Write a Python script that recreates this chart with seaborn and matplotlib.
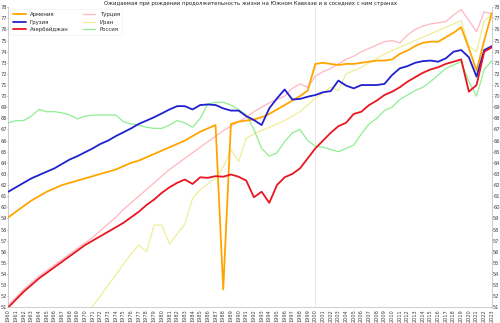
import numpy as np
import pandas as pd
import matplotlib
matplotlib.use('Agg')
import matplotlib.pyplot as plt
import seaborn as sns

years = list(range(1960, 2024))

armenia = [59.1, 59.6, 60.1, 60.6, 61.0, 61.4, 61.7, 62.0, 62.2, 62.4,
           62.6, 62.8, 63.0, 63.2, 63.4, 63.7, 64.0, 64.2, 64.5, 64.8,
           65.1, 65.4, 65.7, 66.0, 66.4, 66.8, 67.1, 67.4, 52.6, 67.5,
           67.7, 67.8, 67.9, 68.1, 68.4, 68.8, 69.2, 69.6, 70.0, 70.5,
           72.9, 73.0, 72.9, 72.8, 72.9, 72.9, 73.0, 73.1, 73.2, 73.2,
           73.3, 73.8, 74.1, 74.5, 74.8, 74.9, 74.9, 75.3, 75.7, 76.2,
           74.3, 72.3, 75.0, 77.5]

georgia = [61.4, 61.8, 62.2, 62.6, 62.9, 63.2, 63.5, 63.9, 64.3, 64.6,
           64.95, 65.3, 65.7, 66.0, 66.4, 66.75, 67.1, 67.5, 67.8, 68.1,
           68.45, 68.8, 69.1, 69.1, 68.8, 69.2, 69.25, 69.2, 68.9, 68.7,
           68.7, 68.2, 67.85, 67.4, 68.9, 69.8, 70.6, 69.7, 69.75, 69.95,
           70.1, 70.35, 70.45, 71.4, 70.95, 70.7, 71.0, 71.0, 71.0, 71.1,
           71.9, 72.5, 72.7, 73.0, 73.15, 73.2, 73.1, 73.4, 74.0, 74.15,
           73.5, 71.75, 74.15, 74.5]

azerbaijan = [51.0, 51.7, 52.4, 53.0, 53.6, 54.1, 54.6, 55.1, 55.6, 56.1,
              56.6, 57.0, 57.4, 57.8, 58.2, 58.6, 59.1, 59.6, 60.2, 60.7,
              61.3, 61.8, 62.2, 62.5, 62.1, 62.7, 62.65, 62.8, 62.75, 62.95,
              62.75, 62.4, 60.9, 61.4, 60.4, 62.0, 62.7, 63.0, 63.5, 64.4,
              65.3, 66.0, 66.7, 67.3, 67.6, 68.4, 68.6, 69.2, 69.6, 70.1,
              70.4, 70.8, 71.3, 71.7, 72.1, 72.4, 72.6, 72.9, 73.1, 73.3,
              70.4, 71.0, 74.0, 74.4]

turkey = [51.2, 51.9, 52.6, 53.2, 53.8, 54.3, 54.8, 55.3, 55.8, 56.3,
          56.8, 57.3, 57.9, 58.5, 59.1, 59.8, 60.4, 61.0, 61.6, 62.2,
          62.8, 63.4, 63.9, 64.4, 64.9, 65.4, 65.9, 66.4, 66.9, 67.3,
          67.7, 68.1, 68.6, 69.0, 69.4, 69.7, 70.0, 70.7, 71.1, 70.8,
          71.8, 72.2, 72.5, 72.9, 73.3, 73.6, 74.0, 74.3, 74.6, 74.9,
          75.0, 74.8, 75.5, 76.0, 76.3, 76.5, 76.6, 76.7, 77.3, 77.8,
          76.8, 75.8, 77.6, 77.4]

iran = [np.nan] * 10 + [
        50.2, 51.1, 52.0, 53.0, 53.9, 54.9, 55.8, 56.6, 56.0, 58.4,
        58.4, 56.7, 57.6, 58.5, 60.8, 61.6, 62.1, 62.6, 63.6, 65.2,
        64.1, 66.2, 66.6, 66.9, 67.2, 67.5, 67.8, 68.2, 68.6, 69.2,
        69.8, 70.3, 70.8, 70.5, 72.0, 72.3, 72.6, 73.0, 73.4, 73.8,
        74.1, 74.4, 74.7, 75.0, 75.3, 75.6, 75.9, 76.2, 76.5, 76.8,
        74.5, 74.0, 76.8, 77.3]

russia = [67.6, 67.8, 67.8, 68.2, 68.8, 68.6, 68.6, 68.5, 68.3, 67.95,
          68.2, 68.3, 68.3, 68.3, 68.3, 67.7, 67.5, 67.4, 67.2, 67.1,
          67.1, 67.4, 67.8, 67.6, 67.2, 68.0, 69.3, 69.45, 69.45, 69.2,
          68.8, 68.3, 67.0, 65.3, 64.6, 64.9, 65.9, 66.7, 67.0, 66.0,
          65.5, 65.4, 65.2, 65.0, 65.3, 65.6, 66.6, 67.5, 68.0, 68.7,
          69.0, 69.7, 70.1, 70.5, 70.8, 71.3, 71.9, 72.5, 72.8, 73.1,
          71.3, 70.0, 72.4, 73.2]

names = ['Армения', 'Грузия', 'Азербайджан', 'Турция', 'Иран', 'Россия']
colors = ['#ffa500', '#2020d0', '#e8161f', '#ffb6c1', '#eeee99', '#90ee90']
widths = [1.3, 1.3, 1.3, 0.9, 0.9, 0.9]
title = 'Ожидаемая при рождении продолжительность жизни на Южном Кавказе и в соседних с ним странах'
marked_years = [2000]

series = [armenia, georgia, azerbaijan, turkey, iran, russia]

sns.set_theme(style='white')
plt.rcParams['font.family'] = ['DejaVu Sans']

fig = plt.figure(figsize=(5, 3.23), dpi=100)
ax = fig.add_axes([0.0166, 0.0486, 0.9672, 0.929])

for yr in marked_years:
    ax.axvline(yr, color='#e4e4e4', lw=0.6, zorder=0)

for name, vals, c, lw in zip(names, series, colors, widths):
    df = pd.DataFrame({'year': years, 'value': vals})
    sns.lineplot(data=df, x='year', y='value', ax=ax, color=c, linewidth=lw,
                 label=name, zorder=3 if lw > 1 else 2)

ax.set_xlim(1960, 2023)
ax.set_ylim(51, 78)
ax.set_xticks(years)
ax.set_xticklabels([str(y) for y in years], rotation=90, fontsize=3.6)
ax.set_yticks(list(range(51, 79)))
ax.set_yticklabels([str(v) for v in range(51, 79)], fontsize=3.7)
ax.tick_params(axis='y', left=True, right=True, labelleft=True, labelright=True,
               length=0.6, pad=0.3, width=0.4, colors='#444444')
ax.tick_params(axis='x', length=1, pad=0.5, width=0.4, colors='#444444')
ax.set_xlabel('')
ax.set_ylabel('')
for s in ax.spines.values():
    s.set_color('#bbbbbb')
    s.set_linewidth(0.5)
ax.spines['top'].set_visible(False)

leg = ax.legend(loc='upper left', ncol=2, fontsize=3.9, frameon=True,
                handlelength=2.3, borderaxespad=0.4, columnspacing=2.6,
                labelspacing=0.45, fancybox=False, borderpad=0.5)
leg.get_frame().set_edgecolor('#eeeeee')
leg.get_frame().set_linewidth(0.5)

fig.text(0.5, 0.997, title, ha='center', va='top', fontsize=3.9, color='#222222')

fig.savefig('out.png', dpi=100)
